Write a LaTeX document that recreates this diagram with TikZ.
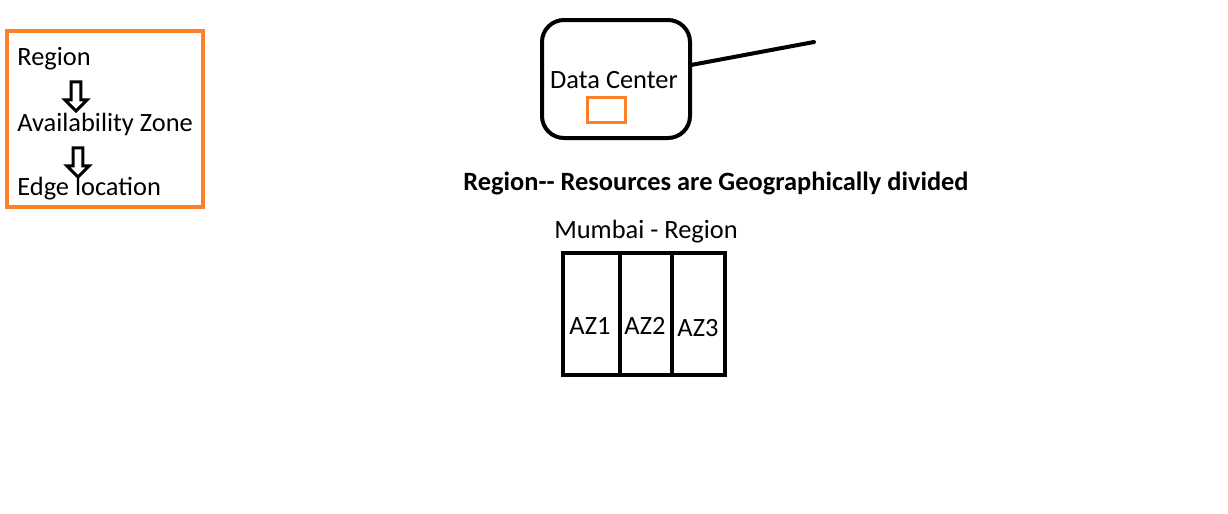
\documentclass[tikz,border=0pt]{standalone}
\usepackage{fontspec}
\setmainfont{Carlito}
\usetikzlibrary{shapes.arrows}
\definecolor{awsorange}{RGB}{253,127,40}

\begin{document}
\begin{tikzpicture}[x=0.5pt,y=-0.5pt,
    label/.style ={anchor=west, inner sep=0pt, font=\fontsize{13.2}{15}\selectfont},
    plain/.style ={inner sep=0pt, font=\fontsize{13.2}{15}\selectfont},
    downarrow/.style ={single arrow, draw, line width=1.5pt, shape border rotate=270,
       minimum width=11pt, single arrow head extend=2.5pt, minimum height=14.5pt, inner sep=1.3pt},
    zone/.style ={draw, line width=2pt, minimum height=61pt, inner sep=0pt}]
   \useasboundingbox (0,0) rectangle (1228,514);
   % legend box
   \draw[awsorange, line width=2pt] (7,31) rectangle (203,207);
   \node[label] (region) at (17,59) {Region};
   \node[label] (az) at (17,124) {Availability Zone};
   \node[label] (edge) at (17,189) {Edge location};
   \node[downarrow] (arrowA) at (76,94) {};
   \node[downarrow] (arrowB) at (78,160) {};
   % data center
   \node[draw, line width=2pt, rounded corners=11pt, minimum width=74pt, minimum height=59pt,
      inner sep=0pt] (dc) at (616,79) {};
   \node[plain] (dctext) at (614,80) {Data Center};
   \node[draw=awsorange, line width=1.5pt, minimum width=19pt, minimum height=12.5pt,
      inner sep=0pt] (server) at (606,110) {};
   \coordinate (lineend) at (814,42);
   \draw[line width=2pt, line cap=round] (dc) -- (lineend);
   % region
   \node[plain, font=\fontsize{13.2}{15}\selectfont\bfseries] (title) at (716,183)
      {Region-{}- Resources are Geographically divided};
   \node[plain] (mumbai) at (646,232) {Mumbai - Region};
   \node[zone, minimum width=28.5pt] (az1) at (591.5,314) {};
   \node[zone, minimum width=26pt] (az2) at (646,314) {};
   \node[zone, minimum width=26.5pt] (az3) at (698.5,314) {};
   \node[plain] (az1text) at (590,326) {AZ1};
   \node[plain] (az2text) at (645,326) {AZ2};
   \node[plain] (az3text) at (698,328) {AZ3};
 \end{tikzpicture}
\end{document}
